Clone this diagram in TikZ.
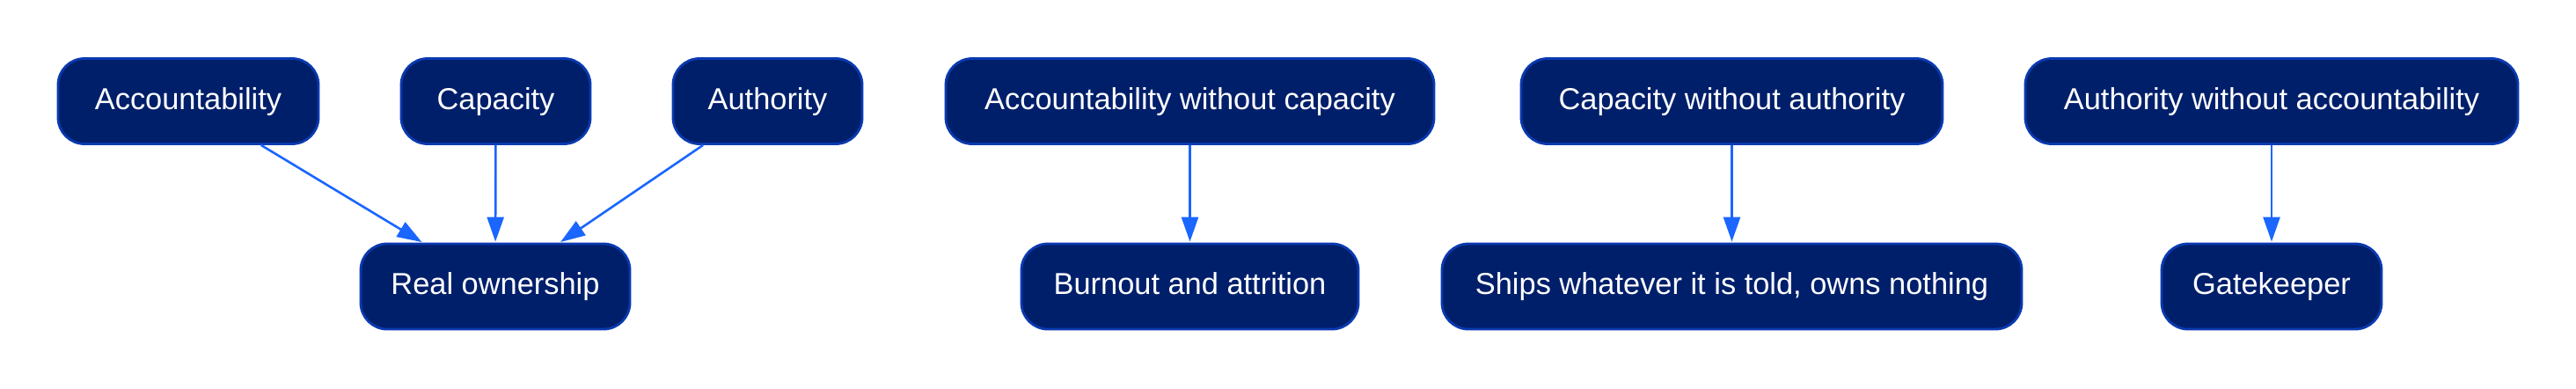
\documentclass[tikz,border=0pt]{standalone}
\usepackage{fontspec}
\setmainfont{Liberation Sans}
\usepackage{xcolor}
\usetikzlibrary{arrows.meta}

\definecolor{boxfill}{HTML}{001F6B}
\definecolor{boxline}{HTML}{0A3AB0}
\definecolor{edgeblue}{HTML}{1A66FF}

\tikzset{
  box/.style={draw=boxline, line width=1.4pt, fill=boxfill, text=white,
    rounded corners=15pt, minimum height=48.5pt, inner sep=0pt,
    text height=12.5pt, text depth=3.5pt,
    font=\fontsize{17.2}{20}\selectfont},
  link/.style={draw=edgeblue, line width=1.3pt,
    -{Triangle[length=14pt,width=9.5pt]}, shorten >=0.5pt}
}

\begin{document}
\begin{tikzpicture}[x=1pt,y=1pt]
        \useasboundingbox (0,0) rectangle (1464,220.5);
        % Real ownership
        \node[box, minimum width=148pt] (acc) at (107,163) {Accountability};
        \node[box, minimum width=107.5pt] (cap) at (281.75,163) {Capacity};
        \node[box, minimum width=107.5pt] (auth) at (436.25,163) {Authority};
        \node[box, minimum width=153pt] (own) at (281.5,57.75) {Real ownership};
        \draw[link] (acc) -- (own);
        \draw[link] (cap) -- (own);
        \draw[link] (auth) -- (own);
        % Missing pieces
        \node[box, minimum width=277.5pt] (accnocap) at (676.25,163) {Accountability without capacity};
        \node[box, minimum width=191.5pt] (burn) at (676.25,57.75) {Burnout and attrition};
        \node[box, minimum width=239.5pt] (capnoauth) at (984.25,163) {Capacity without authority};
        \node[box, minimum width=329.5pt] (ships) at (984.25,57.75) {Ships whatever it is told, owns nothing};
        \node[box, minimum width=280pt] (authnoacc) at (1291,163) {Authority without accountability};
        \node[box, minimum width=125pt] (gate) at (1291,57.75) {Gatekeeper};
        \draw[link] (accnocap) -- (burn);
        \draw[link] (capnoauth) -- (ships);
        \draw[link] (authnoacc) -- (gate);
    \end{tikzpicture}
\end{document}
